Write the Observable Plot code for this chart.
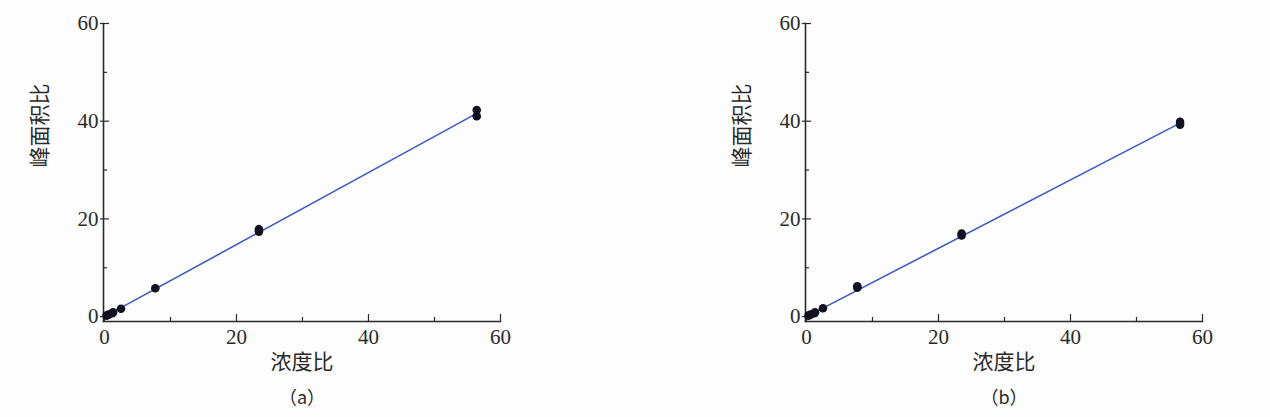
<!DOCTYPE html>
<html>
<head>
<meta charset="utf-8">
<script src="https://cdn.jsdelivr.net/npm/d3@7"></script>
<script src="https://cdn.jsdelivr.net/npm/@observablehq/plot@0.6"></script>
<style>
  html, body { margin: 0; padding: 0; background: #fdfdfd; }
  #wrap { display: flex; width: 1270px; height: 417px; }
  svg { display: block; }
  svg [aria-label$="tick label"], svg [aria-label$="tick label"] text {
    font-family: 'Liberation Serif', 'DejaVu Serif', serif !important;
  }
</style>
</head>
<body>
<div id="wrap"></div>
<script>
// Panel (a) measured points
const aX = [0.3, 0.6, 1.2, 1.3, 2.5, 7.7, 23.4, 23.4, 56.4, 56.4];
const aY = [0.2, 0.4, 0.7, 0.9, 1.6, 5.8, 17.9, 17.4, 42.3, 41.0];
const aLineX = [0.3, 56.4];
const aLineY = [0.2, 41.6];

// Panel (b) measured points
const bX = [0.3, 0.6, 1.2, 1.3, 2.5, 7.7, 7.7, 23.5, 23.5, 56.6, 56.6];
const bY = [0.2, 0.4, 0.7, 0.9, 1.7, 6.2, 5.9, 17.0, 16.6, 39.9, 39.3];
const bLineX = [0.3, 56.6];
const bLineY = [0.2, 39.6];

const majorTicks = [0, 20, 40, 60];
const minorTicks = [10, 30, 50];
const xLabel = "浓度比";
const yLabel = "峰面积比";
const captions = ["（a）", "（b）"];

const serif = "'Liberation Serif', 'DejaVu Serif', serif";
const cjk = "'Noto Sans CJK SC', sans-serif";
const ink = "#2a2a2a";

function panel(xs, ys, lx, ly, caption, width, marginRight) {
  const pts = xs.map((x, i) => ({x, y: ys[i]}));
  const line = lx.map((x, i) => ({x, y: ly[i]}));
  const chart = Plot.plot({
    width, height: 417,
    marginLeft: 103, marginRight, marginTop: 23, marginBottom: 96,
    style: {background: "transparent", fontFamily: serif, fontSize: "21px", color: ink},
    x: {domain: [-0.15, 60]},
    y: {domain: [-1, 60]},
    marks: [
      Plot.axisX({ticks: majorTicks, tickSize: 0, tickPadding: 8, fontSize: 21, fontFamily: serif, label: null}),
      Plot.axisX({ticks: majorTicks, tickSize: -7, text: null, label: null, strokeWidth: 1.2}),
      Plot.axisX({ticks: minorTicks, tickSize: -4, text: null, label: null, strokeWidth: 1.2}),
      Plot.axisY({ticks: majorTicks, tickSize: 3, tickPadding: 2, fontSize: 21, fontFamily: serif, label: null, strokeWidth: 1.2}),
      Plot.axisY({ticks: majorTicks, tickSize: -6, text: null, label: null, strokeWidth: 1.2}),
      Plot.axisY({ticks: minorTicks, tickSize: -4, text: null, label: null, strokeWidth: 1.2}),
      Plot.frame({anchor: "left", stroke: ink, strokeWidth: 1.6}),
      Plot.frame({anchor: "bottom", stroke: ink, strokeWidth: 1.6}),
      Plot.line(line, {x: "x", y: "y", stroke: "#3d5cbf", strokeWidth: 1.6}),
      Plot.dot(pts, {x: "x", y: "y", r: 4.3, fill: "#111122", stroke: "none"}),
      Plot.text([xLabel], {frameAnchor: "bottom", dy: 47, text: d => d, fontFamily: cjk, fontSize: 21, fill: ink}),
      Plot.text([caption], {frameAnchor: "bottom", dy: 82, text: d => d, fontFamily: cjk, fontSize: 18, fill: ink}),
      Plot.text([yLabel], {frameAnchor: "left", dx: -63, dy: -5, rotate: -90, text: d => d, fontFamily: cjk, fontSize: 21, fill: ink})
    ]
  });
  return chart;
}

const wrap = document.getElementById("wrap");
wrap.append(panel(aX, aY, aLineX, aLineY, captions[0], 702, 202));
wrap.append(panel(bX, bY, bLineX, bLineY, captions[1], 568, 68));
</script>
</body>
</html>
